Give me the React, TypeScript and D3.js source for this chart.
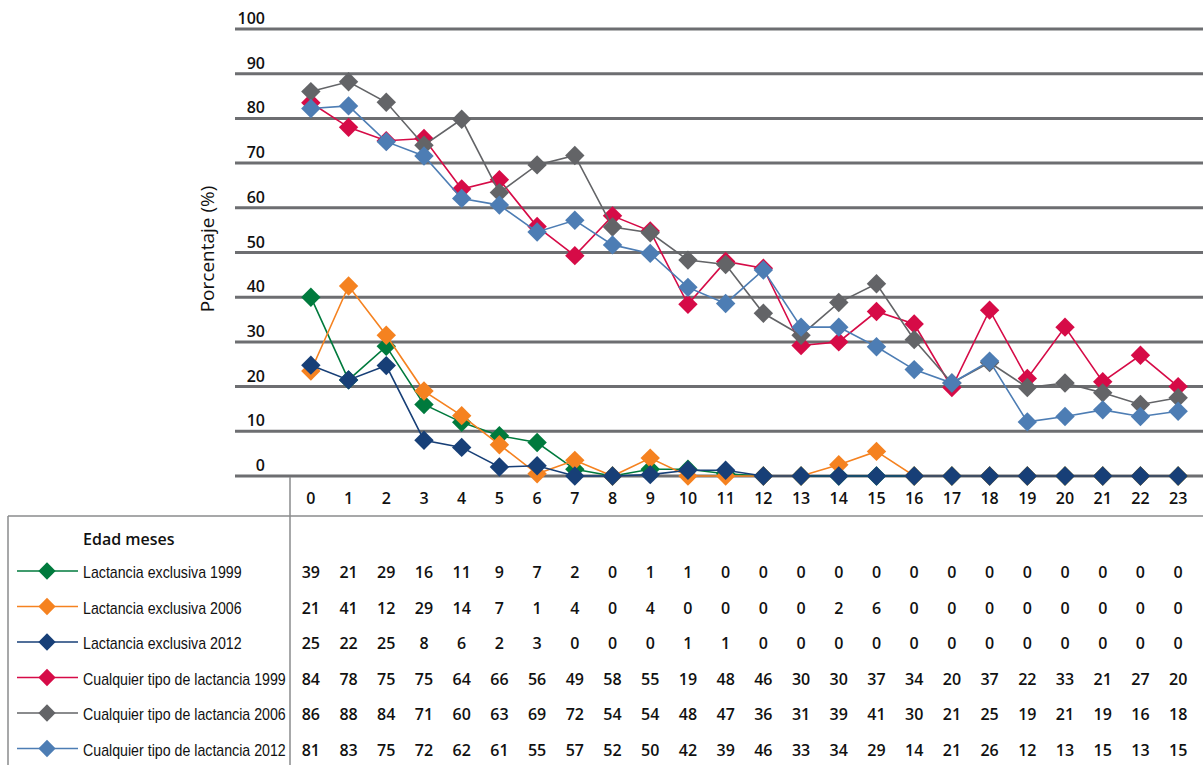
import React from "react";
import * as d3 from "d3";

const months = d3.range(0, 24).map(String);
const yTicks = [0, 10, 20, 30, 40, 50, 60, 70, 80, 90, 100];

const seriesNames = [
  "Lactancia exclusiva 1999",
  "Lactancia exclusiva 2006",
  "Lactancia exclusiva 2012",
  "Cualquier tipo de lactancia 1999",
  "Cualquier tipo de lactancia 2006",
  "Cualquier tipo de lactancia 2012",
];
const seriesColors = ["#007a3d", "#f58220", "#173f77", "#d60b47", "#636467", "#4d7db4"];

// values as printed in the table
const tableExcl1999 = [39, 21, 29, 16, 11, 9, 7, 2, 0, 1, 1, 0, 0, 0, 0, 0, 0, 0, 0, 0, 0, 0, 0, 0];
const tableExcl2006 = [21, 41, 12, 29, 14, 7, 1, 4, 0, 4, 0, 0, 0, 0, 2, 6, 0, 0, 0, 0, 0, 0, 0, 0];
const tableExcl2012 = [25, 22, 25, 8, 6, 2, 3, 0, 0, 0, 1, 1, 0, 0, 0, 0, 0, 0, 0, 0, 0, 0, 0, 0];
const tableAny1999 = [84, 78, 75, 75, 64, 66, 56, 49, 58, 55, 19, 48, 46, 30, 30, 37, 34, 20, 37, 22, 33, 21, 27, 20];
const tableAny2006 = [86, 88, 84, 71, 60, 63, 69, 72, 54, 54, 48, 47, 36, 31, 39, 41, 30, 21, 25, 19, 21, 19, 16, 18];
const tableAny2012 = [81, 83, 75, 72, 62, 61, 55, 57, 52, 50, 42, 39, 46, 33, 34, 29, 14, 21, 26, 12, 13, 15, 13, 15];

// values as plotted in the chart
const plotExcl1999 = [40, 21.5, 29, 16, 12, 9, 7.5, 1.5, 0, 1.5, 1.5, 0.5, 0, 0, 0, 0, 0, 0, 0, 0, 0, 0, 0, 0];
const plotExcl2006 = [23.5, 42.5, 31.5, 19, 13.5, 7, 0.5, 3.5, 0, 4, 0, 0, 0, 0, 2.5, 5.5, 0, 0, 0, 0, 0, 0, 0, 0];
const plotExcl2012 = [24.8, 21.5, 24.7, 8, 6.4, 2, 2.3, 0, 0, 0.3, 1.3, 1.3, 0, 0, 0, 0, 0, 0, 0, 0, 0, 0, 0, 0];
const plotAny1999 = [83.5, 78, 75, 75.5, 64.2, 66.3, 55.8, 49.3, 58.2, 54.8, 38.4, 48, 46.5, 29.2, 30, 36.8, 34, 19.8, 37.1, 21.8, 33.3, 21.1, 27, 20];
const plotAny2006 = [86, 88.2, 83.6, 74, 79.8, 63.4, 69.6, 71.7, 55.7, 54.4, 48.3, 47.3, 36.4, 31.5, 38.8, 43, 30.5, 20.8, 25.4, 19.8, 20.8, 18.6, 16, 17.5];
const plotAny2012 = [82.2, 82.8, 74.8, 71.6, 62.1, 60.6, 54.6, 57.2, 51.7, 49.8, 42.2, 38.6, 46.1, 33.3, 33.3, 28.9, 23.8, 20.8, 25.7, 12.1, 13.3, 14.8, 13.3, 14.5];

const tableRows = [tableExcl1999, tableExcl2006, tableExcl2012, tableAny1999, tableAny2006, tableAny2012];
const plotRows = [plotExcl1999, plotExcl2006, plotExcl2012, plotAny1999, plotAny2006, plotAny2012];

const W = 1203;
const H = 765;
const sans = "'Open Sans', 'Noto Sans', 'DejaVu Sans', sans-serif";
const narrow = "'Liberation Sans', Arial, sans-serif";

export default function App() {
  const x = d3.scaleBand<string>().domain(months).range([292, 1197]);
  const y = d3.scaleLinear().domain([0, 100]).range([476, 29]);
  const cx = (m: number) => (x(String(m)) as number) + x.bandwidth() / 2;
  const line = d3
    .line<number>()
    .x((_, i) => cx(i))
    .y((v) => y(v));
  const diamondPath = d3.symbol().type(d3.symbolDiamond2 ?? d3.symbolDiamond).size(240)() as string;
  const smallDiamond = d3.symbol().type(d3.symbolDiamond2 ?? d3.symbolDiamond).size(190)() as string;

  const rowY = (i: number) => 578 + i * 35.5;

  return (
    <div style={{ position: "absolute", left: 0, top: 0 }}>
      <svg width={W} height={H} style={{ display: "block", background: "#fff" }}>
        {/* gridlines */}
        {yTicks.map((t) => (
          <g key={t}>
            <line x1={235} x2={W} y1={y(t)} y2={y(t)} stroke="#6d6e71" strokeWidth={3} />
            <text
              x={265}
              y={y(t) - 5}
              textAnchor="end"
              fontFamily={sans}
              fontSize={16}
              fontWeight={600}
              fill="#111"
            >
              {t}
            </text>
          </g>
        ))}
        <text
          transform={`translate(214,249) rotate(-90)`}
          textAnchor="middle"
          fontFamily={sans}
          fontSize={19}
          fill="#111"
        >
          Porcentaje (%)
        </text>

        {/* table lines */}
        <line x1={290} x2={290} y1={477} y2={H} stroke="#8a8b8d" strokeWidth={1.5} />
        <line x1={8} x2={W} y1={516} y2={516} stroke="#8a8b8d" strokeWidth={1.5} />
        <line x1={8} x2={8} y1={516} y2={H} stroke="#8a8b8d" strokeWidth={1.5} />

        {/* x labels */}
        {months.map((m) => (
          <text
            key={m}
            x={cx(+m)}
            y={504}
            textAnchor="middle"
            fontFamily={sans}
            fontSize={16}
            fontWeight={600}
            fill="#111"
          >
            {m}
          </text>
        ))}

        {/* series */}
        {plotRows.map((vals, si) => (
          <g key={si}>
            <path d={line(vals) as string} fill="none" stroke={seriesColors[si]} strokeWidth={1.6} />
            {vals.map((v, i) => (
              <path
                key={i}
                d={diamondPath}
                transform={`translate(${cx(i)},${y(v)})`}
                fill={seriesColors[si]}
              />
            ))}
          </g>
        ))}

        {/* table */}
        <text x={83} y={545} fontFamily={sans} fontSize={16} fontWeight={600} fill="#111">
          Edad meses
        </text>
        {seriesNames.map((name, si) => (
          <g key={name}>
            <line x1={17} x2={78} y1={rowY(si) - 7} y2={rowY(si) - 7} stroke={seriesColors[si]} strokeWidth={1.6} />
            <path d={smallDiamond} transform={`translate(47,${rowY(si) - 7})`} fill={seriesColors[si]} />
            <text
              transform={`translate(83,${rowY(si)}) scale(0.835,1)`}
              fontFamily={narrow}
              fontSize={17}
              fill="#111"
            >
              {name}
            </text>
            {tableRows[si].map((v, i) => (
              <text
                key={i}
                x={cx(i)}
                y={rowY(si)}
                textAnchor="middle"
                fontFamily={sans}
                fontSize={16}
                fontWeight={600}
                fill="#111"
              >
                {v}
              </text>
            ))}
          </g>
        ))}
      </svg>
    </div>
  );
}
